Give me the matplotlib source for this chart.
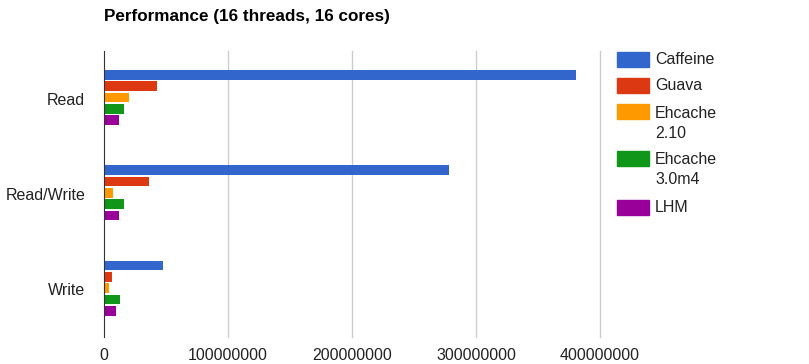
import numpy as np
import matplotlib.pyplot as plt
from matplotlib.patches import Rectangle

plt.rcParams['font.family'] = ['Liberation Sans', 'DejaVu Sans']

categories = ['Read', 'Read/Write', 'Write']
series = ['Caffeine', 'Guava', 'Ehcache\n2.10', 'Ehcache\n3.0m4', 'LHM']
colors = ['#3366cc', '#dc3912', '#ff9900', '#109618', '#990099']
caffeine = [380.5e6, 278e6, 47.3e6]
guava = [42.5e6, 36.3e6, 6.2e6]
ehcache2 = [20.4e6, 7.0e6, 4.3e6]
ehcache3 = [16.4e6, 16.4e6, 13.2e6]
lhm = [12.3e6, 12.3e6, 9.9e6]
values = [caffeine, guava, ehcache2, ehcache3, lhm]
xticks = [0, 100000000, 200000000, 300000000, 400000000]

W, H = 809, 364
fig = plt.figure(figsize=(W / 100, H / 100), dpi=100, facecolor='white')
ax = fig.add_axes([104 / W, 1 - 337 / H, (600 - 104) / W, 286 / H])

y = np.arange(len(categories))
step = 0.119
for i, (vals, col) in enumerate(zip(values, colors)):
    ax.barh(y + (i - 2) * step - 0.012, vals, height=0.1, color=col, zorder=3)

ax.set_xlim(0, 400e6)
ax.set_ylim(2.5, -0.5)
ax.set_yticks(y)
ax.set_yticklabels(categories, fontsize=11.5, color='#222222')
ax.set_xticks(xticks)
ax.set_xticklabels([str(v) for v in xticks], fontsize=11.5, color='#222222')
ax.tick_params(length=0)
ax.tick_params(axis='y', pad=13.5)
ax.tick_params(axis='x', pad=8)
for s in ['top', 'right', 'bottom']:
    ax.spines[s].set_visible(False)
ax.spines['left'].set_color('#333333')
ax.spines['left'].set_zorder(4)
for v in xticks[1:]:
    ax.axvline(v, color='#cccccc', lw=1, zorder=1, clip_on=False)

fig.text(104 / W, 1 - 17 / H, 'Performance (16 threads, 16 cores)', fontsize=12.3,
         fontweight='bold', va='center', ha='left')

# legend drawn by hand, Google charts style
leg_y = [59, 85, 112, 159, 207]
for name, col, yy in zip(series, colors, leg_y):
    fig.patches.append(Rectangle((617 / W, 1 - (yy + 7.5) / H), 32 / W, 15 / H,
                                 color=col, transform=fig.transFigure, figure=fig))
    for k, line in enumerate(name.split('\n')):
        fig.text(655 / W, 1 - (yy + 1 + 20 * k) / H, line, fontsize=11.5,
                 color='#222222', va='center', ha='left')

fig.savefig('out.png', dpi=100)
